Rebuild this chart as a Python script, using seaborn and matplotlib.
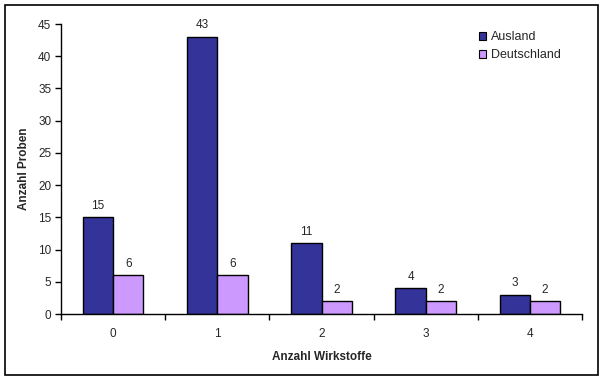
import pandas as pd
import numpy as np
import matplotlib.pyplot as plt
import seaborn as sns
from matplotlib.patches import Rectangle

# Werte aus dem Diagramm
kategorien = ['0', '1', '2', '3', '4']
ausland = [15, 43, 11, 4, 3]
deutschland = [6, 6, 2, 2, 2]

df = pd.DataFrame({
    'Anzahl Wirkstoffe': kategorien * 2,
    'Anzahl Proben': ausland + deutschland,
    'Herkunft': ['Ausland'] * len(kategorien) + ['Deutschland'] * len(kategorien),
})

sns.set_style('white')
plt.rcParams['font.family'] = ['Liberation Sans', 'DejaVu Sans']

fig = plt.figure(figsize=(6.04, 3.88), dpi=100)
ax = fig.add_axes([0.101, 0.1907, 0.8626, 0.7473])

sns.barplot(data=df, x='Anzahl Wirkstoffe', y='Anzahl Proben', hue='Herkunft',
            palette=['#333399', '#CC99FF'], width=0.58, saturation=1,
            edgecolor='black', linewidth=1, ax=ax)

for cont in ax.containers:
    ax.bar_label(cont, padding=4, fontsize=8.5)

ax.set_ylim(0, 45)
ax.set_xlim(-0.5, 4.5)
ax.set_yticks(np.arange(0, 46, 5))
ax.set_xticks(np.arange(-0.5, 4.6, 1), minor=True)
ax.tick_params(axis='x', which='major', length=0, pad=10, labelsize=8.5)
ax.tick_params(axis='x', which='minor', length=4, width=1, direction='out', color='black')
ax.tick_params(axis='y', length=4, width=1, direction='out', color='black', labelsize=8.5, pad=3)
ax.tick_params(left=True, bottom=True)
ax.xaxis.set_tick_params(which='minor', bottom=True)

for s in ['top', 'right']:
    ax.spines[s].set_visible(False)
for s in ['left', 'bottom']:
    ax.spines[s].set_color('black')
    ax.spines[s].set_linewidth(1)

ax.set_xlabel('Anzahl Wirkstoffe', fontsize=8.5, fontweight='bold', labelpad=8)
ax.set_ylabel('Anzahl Proben', fontsize=8.5, fontweight='bold', labelpad=6)

leg = ax.legend(loc='upper left', bbox_to_anchor=(0.78, 1.014), frameon=False,
                fontsize=9, handlelength=0.6, handleheight=0.6,
                handletextpad=0.4, labelspacing=0.5)
for h in leg.legend_handles:
    h.set_edgecolor('black')
    h.set_linewidth(0.8)

# Rahmen um das gesamte Diagramm
fig.patches.append(Rectangle((0.0083, 0.0335), 0.9817, 0.9535, transform=fig.transFigure,
                             fill=False, edgecolor='black', linewidth=1.2))

fig.savefig('out.png', dpi=100)
